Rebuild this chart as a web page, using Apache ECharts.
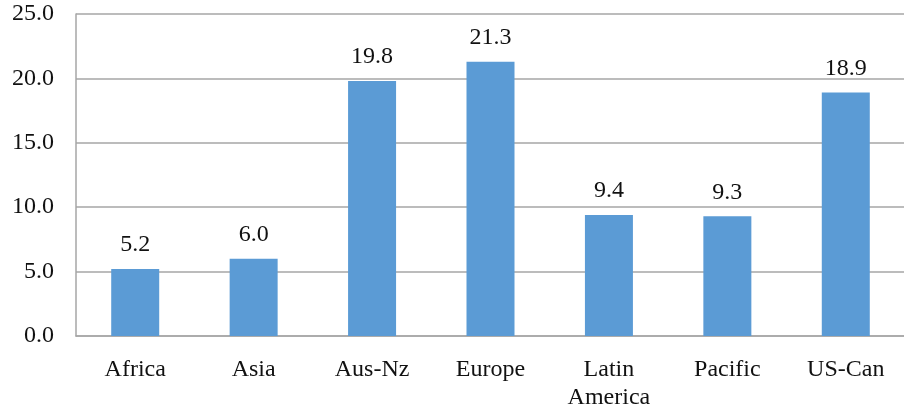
<!DOCTYPE html>
<html>
<head>
<meta charset="utf-8">
<script src="https://cdn.jsdelivr.net/npm/echarts@6/dist/echarts.min.js"></script>
<style>
html,body{margin:0;padding:0;background:#fff;}
#chart{width:904px;height:409px;}
</style>
</head>
<body>
<div id="chart"></div>
<script>
// Regions and their values
const regions = ['Africa', 'Asia', 'Aus-Nz', 'Europe', 'Latin\nAmerica', 'Pacific', 'US-Can'];
const values = [5.2, 6.0, 19.8, 21.3, 9.4, 9.3, 18.9];

const serif = '"Liberation Serif", "DejaVu Serif", serif';
const chart = echarts.init(document.getElementById('chart'));
chart.setOption({
  animation: false,
  grid: { left: 76, right: -1, top: 14, bottom: 73, containLabel: false, outerBoundsMode: 'none' },
  xAxis: {
    type: 'category',
    data: regions,
    axisLine: { lineStyle: { color: '#a6a6a6', width: 1.5 } },
    axisTick: { show: false },
    axisLabel: { color: '#111', fontFamily: serif, fontSize: 24, margin: 20, lineHeight: 28, interval: 0 }
  },
  yAxis: {
    type: 'value',
    min: 0, max: 25, interval: 5,
    axisLine: { show: true, lineStyle: { color: '#a6a6a6', width: 1.5 } },
    axisTick: { show: false },
    splitLine: { lineStyle: { color: '#a6a6a6', width: 1.5 } },
    axisLabel: { color: '#111', fontFamily: serif, fontSize: 24, margin: 22,
      formatter: v => v.toFixed(1) }
  },
  series: [{
    type: 'bar',
    data: values,
    barWidth: 48,
    itemStyle: { color: '#5b9bd5' },
    label: { show: true, position: 'top', distance: 12, color: '#111', fontFamily: serif, fontSize: 24,
      formatter: p => p.value.toFixed(1) }
  }]
});
</script>
</body>
</html>
